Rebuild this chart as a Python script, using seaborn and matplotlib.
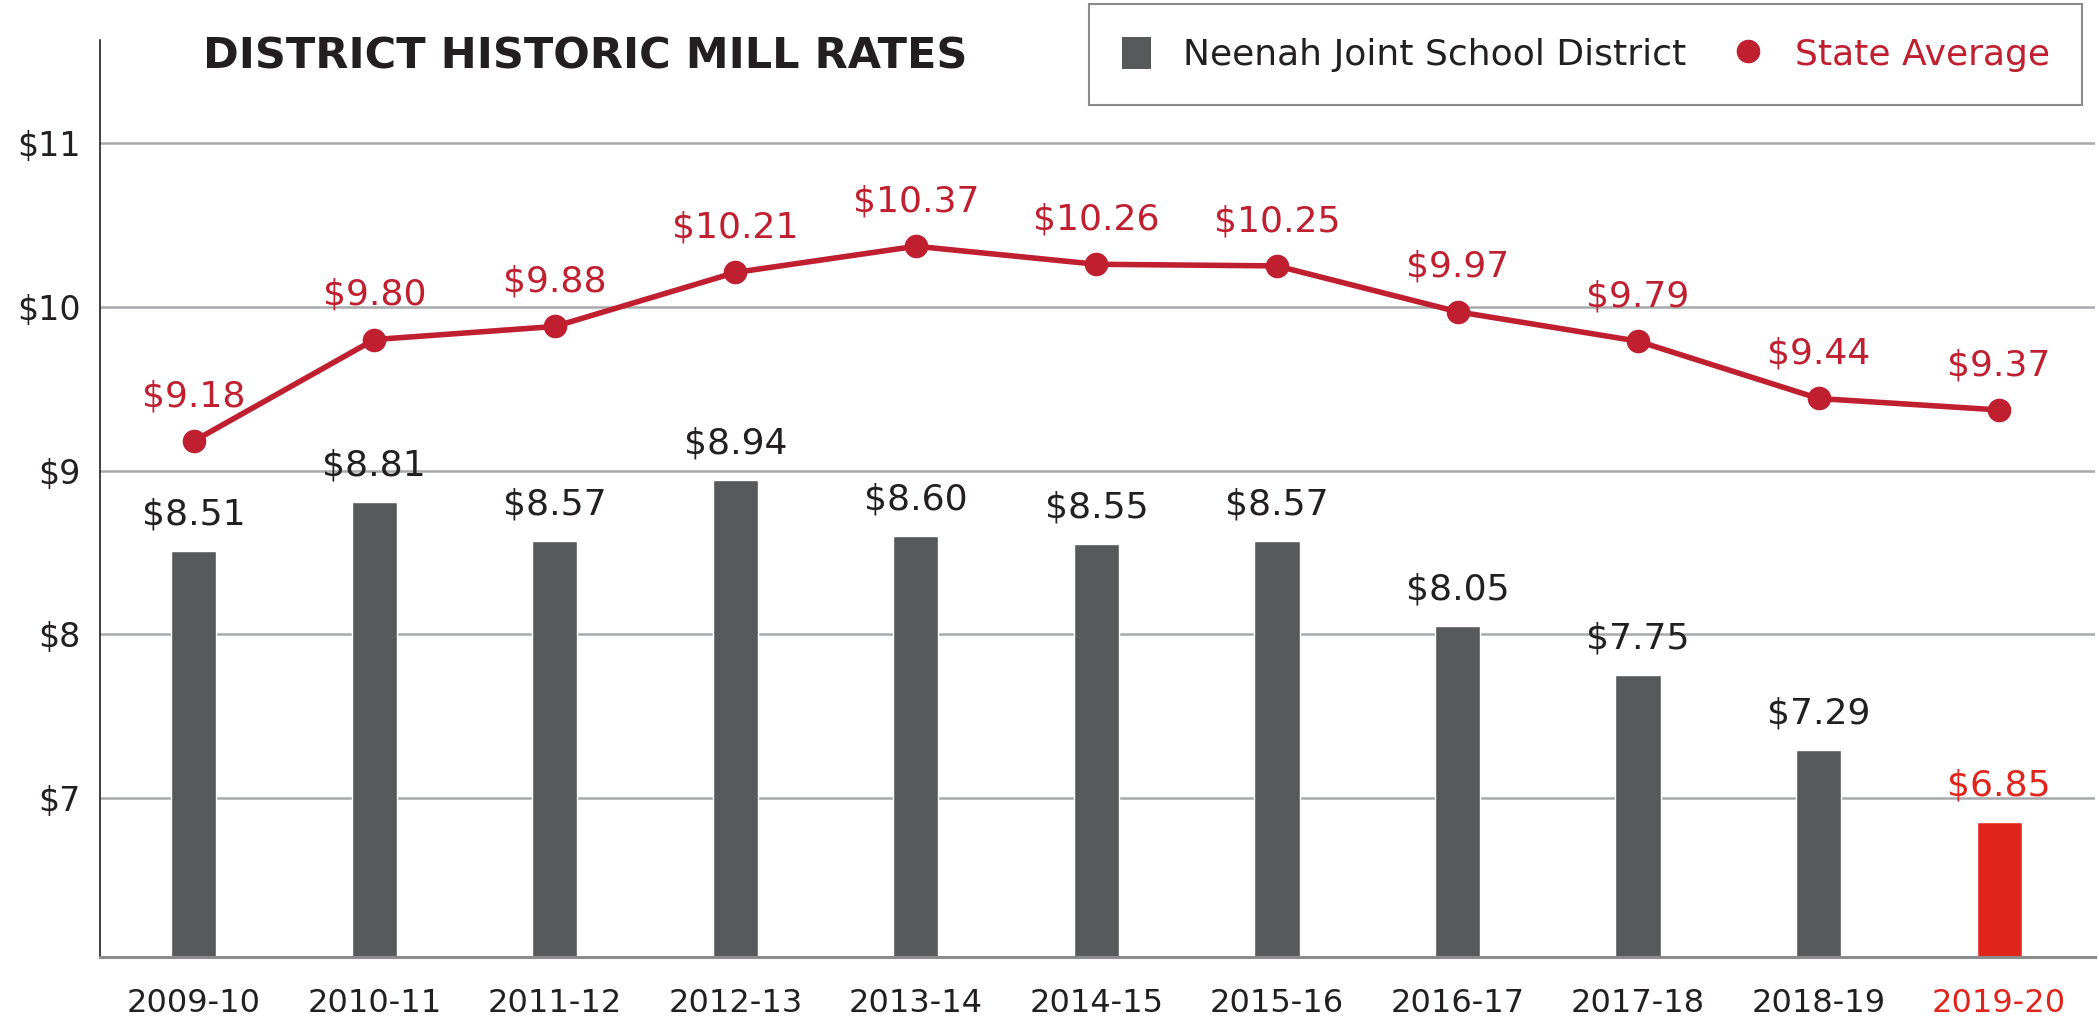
import matplotlib
matplotlib.use("Agg")
import matplotlib.pyplot as plt
import seaborn as sns
import numpy as np
import pandas as pd
from matplotlib.lines import Line2D
from matplotlib.patches import Patch

years = ["2009-10", "2010-11", "2011-12", "2012-13", "2013-14", "2014-15",
         "2015-16", "2016-17", "2017-18", "2018-19", "2019-20"]
district = [8.51, 8.81, 8.57, 8.94, 8.60, 8.55, 8.57, 8.05, 7.75, 7.29, 6.85]
state = [9.18, 9.80, 9.88, 10.21, 10.37, 10.26, 10.25, 9.97, 9.79, 9.44, 9.37]
yticks = [7, 8, 9, 10, 11]
ytick_labels = ["$7", "$8", "$9", "$10", "$11"]

GRAY = "#58595b"
BRIGHT_RED = "#e0261c"
LINE_RED = "#c01f30"
TEXT = "#231f20"

sns.set_theme(style="white")
plt.rcParams['font.family'] = ['DejaVu Sans']

fig = plt.figure(figsize=(20.99, 10.21), dpi=100)
ax = fig.add_axes([0.0476, 0.0627, 0.9504, 0.8981])

df = pd.DataFrame({"year": years, "district": district, "state": state})
bar_colors = [GRAY] * (len(years) - 1) + [BRIGHT_RED]
sns.barplot(data=df, x="year", y="district", hue="year", palette=bar_colors,
            legend=False, width=0.25, ax=ax, saturation=1)

xpos = np.arange(len(years))
sns.lineplot(x=xpos, y=state, color=LINE_RED, linewidth=4, marker="o",
             markersize=17, markeredgewidth=0, ax=ax, zorder=5)

ax.set_ylim(6.028, 11.63)
ax.set_xlim(-0.52, 10.53)
ax.set_yticks(yticks)
ax.set_yticklabels(ytick_labels, fontsize=24, color=TEXT)
ax.set_xticks(xpos)
ax.set_xticklabels(years, fontsize=23, color=TEXT)
ax.get_xticklabels()[-1].set_color(BRIGHT_RED)
ax.tick_params(axis="both", length=0)
ax.tick_params(axis="x", pad=22)
ax.tick_params(axis="y", pad=14)
ax.set_xlabel("")
ax.set_ylabel("")
ax.grid(axis="y", color="#a7a9ac", linewidth=1.8)
ax.set_axisbelow(True)
for s in ["top", "right"]:
    ax.spines[s].set_visible(False)
ax.spines["left"].set_color("#231f20")
ax.spines["left"].set_linewidth(1.2)
ax.spines["bottom"].set_color("#8c8c8c")
ax.spines["bottom"].set_linewidth(2.2)

for i, v in enumerate(district):
    ax.annotate(f"${v:.2f}", (i, v), xytext=(0, 14), textcoords="offset points",
                ha="center", va="bottom", fontsize=26,
                color=BRIGHT_RED if i == len(years) - 1 else TEXT)
for i, v in enumerate(state):
    ax.annotate(f"${v:.2f}", (i, v), xytext=(0, 20), textcoords="offset points",
                ha="center", va="bottom", fontsize=26, color=LINE_RED)

fig.text(0.0967, 0.945, "DISTRICT HISTORIC MILL RATES", fontsize=31,
         fontweight="bold", color=TEXT, va="center", ha="left")

handles = [Patch(facecolor=GRAY, edgecolor="none"),
           Line2D([0], [0], marker="o", color="none", markerfacecolor=LINE_RED,
                  markeredgewidth=0, markersize=17)]
leg = fig.legend(handles, ["Neenah Joint School District", "State Average"],
                 loc="upper right", bbox_to_anchor=(0.992, 0.996), ncol=2,
                 fontsize=26, frameon=True, fancybox=False, handlelength=0.8,
                 handleheight=1.0, handletextpad=0.9, columnspacing=1.3,
                 borderpad=0.9, borderaxespad=0)
leg.get_frame().set_edgecolor("#6d6e71")
leg.get_frame().set_linewidth(1.5)
texts = leg.get_texts()
texts[0].set_color(TEXT)
texts[1].set_color(LINE_RED)

fig.savefig("out.png", dpi=100, facecolor="white")
